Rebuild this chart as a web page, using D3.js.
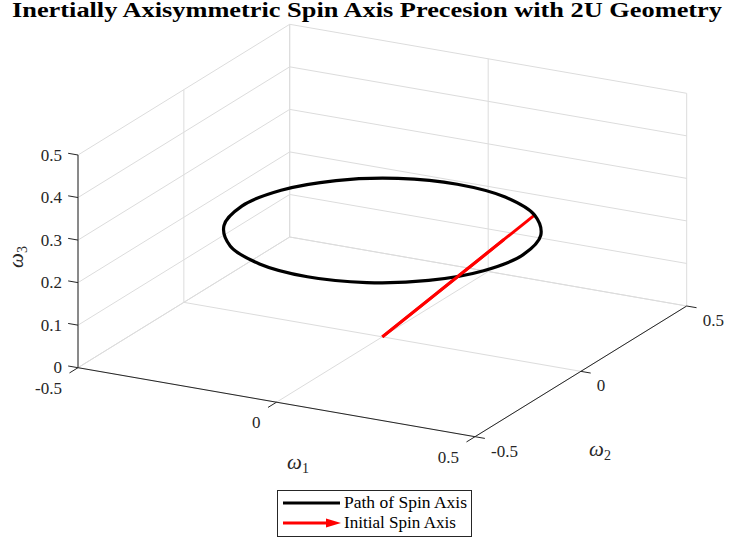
<!DOCTYPE html>
<html>
<head>
<meta charset="utf-8">
<script src="https://cdn.jsdelivr.net/npm/d3@7"></script>
<style>
  body { margin: 0; background: #fff; }
  svg { display: block; font-family: "Liberation Serif", "DejaVu Serif", serif; }
</style>
</head>
<body>
<svg id="chart" width="729" height="543"></svg>
<script>
// axis limits and ticks
var w1Ticks = [-0.5, 0, 0.5];
var w2Ticks = [-0.5, 0, 0.5];
var w3Ticks = [0, 0.1, 0.2, 0.3, 0.4, 0.5];
var w3TickLabels = ["0", "0.1", "0.2", "0.3", "0.4", "0.5"];

// path of spin axis (points read around the circle)
var pathW1 = [0.354, 0.327, 0.250, 0.135, 0, -0.135, -0.250, -0.327, -0.354, -0.327, -0.250, -0.135, 0, 0.135, 0.250, 0.327];
var pathW2 = [0, 0.135, 0.250, 0.327, 0.354, 0.327, 0.250, 0.135, 0, -0.135, -0.250, -0.327, -0.354, -0.327, -0.250, -0.135];
var pathW3 = [0.25, 0.25, 0.25, 0.25, 0.25, 0.25, 0.25, 0.25, 0.25, 0.25, 0.25, 0.25, 0.25, 0.25, 0.25, 0.25];

// initial spin axis (quiver: origin + components)
var spinStart = [0, 0, 0];
var spinVec = [0.25, 0.25, 0.25];

var svg = d3.select('#chart');

// normalised scales for each data axis
var sx = d3.scaleLinear().domain([-0.5, 0.5]).range([0, 1]);
var sy = d3.scaleLinear().domain([-0.5, 0.5]).range([0, 1]);
var sz = d3.scaleLinear().domain([0, 0.5]).range([0, 1]);

// orthographic view: screen position of the (-0.5,-0.5,0) corner and the unit edges
var P0 = [78, 367.7];
var EX = [397, 69];
var EY = [211.7, -130.7];
var EZ = [0, -212.7];

function proj(x, y, z) {
  var u = sx(x), v = sy(y), w = sz(z);
  return [P0[0] + u * EX[0] + v * EY[0] + w * EZ[0],
          P0[1] + u * EX[1] + v * EY[1] + w * EZ[1]];
}

var gridColor = '#dcdcdc';
var axisColor = '#262626';
var line = d3.line();

var grid = svg.append('g').attr('fill', 'none').attr('stroke', gridColor).attr('stroke-width', 1);
// left wall (w1 = -0.5) and back wall (w2 = 0.5): horizontal lines at each w3 tick
w3Ticks.forEach(function (z) {
  grid.append('path').attr('d', line([proj(-0.5, -0.5, z), proj(-0.5, 0.5, z), proj(0.5, 0.5, z)]));
});
w2Ticks.forEach(function (y) {
  grid.append('path').attr('d', line([proj(-0.5, y, 0), proj(-0.5, y, 0.5)]));
  grid.append('path').attr('d', line([proj(-0.5, y, 0), proj(0.5, y, 0)]));
});
w1Ticks.forEach(function (x) {
  grid.append('path').attr('d', line([proj(x, 0.5, 0), proj(x, 0.5, 0.5)]));
  grid.append('path').attr('d', line([proj(x, -0.5, 0), proj(x, 0.5, 0)]));
});

// axis lines
var axes = svg.append('g').attr('fill', 'none').attr('stroke', axisColor).attr('stroke-width', 1);
axes.append('path').attr('d', line([proj(-0.5, -0.5, 0.5), proj(-0.5, -0.5, 0)]));
axes.append('path').attr('d', line([proj(-0.5, -0.5, 0), proj(0.5, -0.5, 0)]));
axes.append('path').attr('d', line([proj(0.5, -0.5, 0), proj(0.5, 0.5, 0)]));

var tickLen = 10;
function unit(v) { var n = Math.hypot(v[0], v[1]); return [v[0] / n, v[1] / n]; }
var dX = unit([-EY[0], -EY[1]]);  // ticks on w1 axis point away (-w2)
var dY = unit(EX);                 // ticks on w2 axis point +w1
var dZ = unit([-EX[0], -EX[1]]);   // ticks on w3 axis point -w1

var labels = svg.append('g').attr('fill', axisColor).attr('font-size', '17px');

w1Ticks.forEach(function (x) {
  var p = proj(x, -0.5, 0);
  axes.append('path').attr('d', line([p, [p[0] + dX[0] * tickLen, p[1] + dX[1] * tickLen]]));
  labels.append('text').attr('x', p[0] - 16).attr('y', p[1] + 26)
    .attr('text-anchor', 'end').text(x === 0 ? '0' : String(x));
});
w2Ticks.forEach(function (y) {
  var p = proj(0.5, y, 0);
  axes.append('path').attr('d', line([p, [p[0] + dY[0] * tickLen, p[1] + dY[1] * tickLen]]));
  labels.append('text').attr('x', p[0] + 16).attr('y', p[1] + 20)
    .attr('text-anchor', 'start').text(y === 0 ? '0' : String(y));
});
w3Ticks.forEach(function (z, i) {
  var p = proj(-0.5, -0.5, z);
  axes.append('path').attr('d', line([p, [p[0] + dZ[0] * tickLen, p[1] + dZ[1] * tickLen]]));
  labels.append('text').attr('x', p[0] - 16).attr('y', p[1] + 5.5)
    .attr('text-anchor', 'end').text(w3TickLabels[i]);
});

// axis labels
function omega(g, sub, x, y, rot) {
  var t = g.append('text').attr('font-size', '21px').attr('font-style', 'italic')
    .attr('text-anchor', 'middle');
  if (rot) t.attr('transform', 'translate(' + x + ',' + y + ') rotate(-90)');
  else t.attr('x', x).attr('y', y);
  t.append('tspan').text('\u03c9');
  t.append('tspan').attr('font-size', '14px').attr('font-style', 'normal').attr('dy', 4).text(sub);
}
omega(labels, '1', 298, 469, false);
omega(labels, '2', 600, 456, false);
omega(labels, '3', 23, 257, true);

// initial spin axis (under the circle first)
var spinEnd = [spinStart[0] + spinVec[0], spinStart[1] + spinVec[1], spinStart[2] + spinVec[2]];
svg.append('path').attr('d', line([proj.apply(null, spinStart), proj.apply(null, spinEnd)]))
  .attr('stroke', '#ff0000').attr('stroke-width', 3).attr('fill', 'none');

// path of spin axis
var pathPts = pathW1.map(function (x, i) { return proj(x, pathW2[i], pathW3[i]); });
svg.append('path')
  .attr('d', d3.line().curve(d3.curveCatmullRomClosed.alpha(0.5))(pathPts))
  .attr('fill', 'none').attr('stroke', '#000').attr('stroke-width', 3.2);

// front part of the spin axis drawn over the circle
var frontEnd = [spinStart[0] + spinVec[0] * 0.8, spinStart[1] + spinVec[1] * 0.8, spinStart[2] + spinVec[2] * 0.8];
svg.append('path').attr('d', line([proj.apply(null, spinStart), proj.apply(null, frontEnd)]))
  .attr('stroke', '#ff0000').attr('stroke-width', 3).attr('fill', 'none');

// title
svg.append('text').attr('x', 367).attr('y', 17)
  .attr('text-anchor', 'middle').attr('font-weight', 'bold').attr('font-size', '20px')
  .attr('fill', '#000')
  .attr('textLength', 710).attr('lengthAdjust', 'spacingAndGlyphs')
  .text('Inertially Axisymmetric Spin Axis Precesion with 2U Geometry');

// legend
var leg = svg.append('g');
leg.append('rect').attr('x', 277.5).attr('y', 490.5).attr('width', 194).attr('height', 46)
  .attr('fill', '#fff').attr('stroke', '#262626').attr('stroke-width', 1);
leg.append('line').attr('x1', 283).attr('x2', 340).attr('y1', 503).attr('y2', 503)
  .attr('stroke', '#000').attr('stroke-width', 3);
leg.append('line').attr('x1', 283).attr('x2', 326).attr('y1', 523).attr('y2', 523)
  .attr('stroke', '#ff0000').attr('stroke-width', 3);
leg.append('path').attr('d', 'M326,518.5L341,523L326,527.5Z').attr('fill', '#ff0000');
leg.append('text').attr('x', 344).attr('y', 508).attr('font-size', '16px').attr('fill', '#000')
  .attr('textLength', 123).attr('lengthAdjust', 'spacingAndGlyphs').text('Path of Spin Axis');
leg.append('text').attr('x', 344).attr('y', 528).attr('font-size', '16px').attr('fill', '#000')
  .attr('textLength', 112).attr('lengthAdjust', 'spacingAndGlyphs').text('Initial Spin Axis');
</script>
</body>
</html>
